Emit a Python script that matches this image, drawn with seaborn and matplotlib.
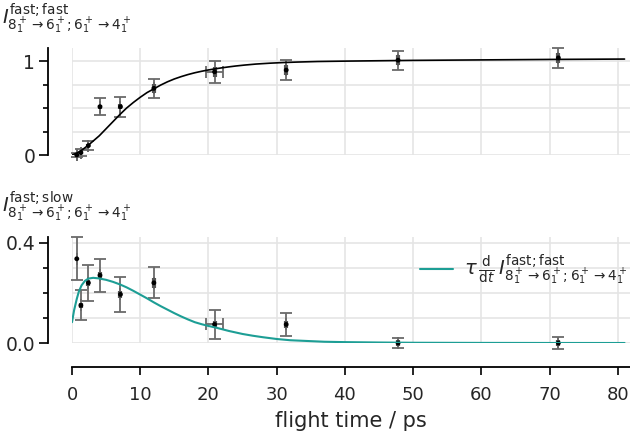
import matplotlib
matplotlib.use('Agg')
import matplotlib.pyplot as plt
from matplotlib.ticker import FixedLocator
import pandas as pd
import seaborn as sns

flight_time = [0.7, 1.3, 2.4, 4.1, 7.1, 12.0, 20.9, 31.4, 47.8, 71.3]
flight_time_err = [0, 0, 0, 0, 0, 0, 1.2, 0, 0, 0]
fast_fast = [0.0, 0.025, 0.10, 0.515, 0.515, 0.71, 0.886, 0.905, 1.01, 1.035]
fast_fast_err = [0.02, 0.035, 0.05, 0.093, 0.107, 0.098, 0.12, 0.11, 0.10, 0.103]
fast_fast_err_stat = [0.01, 0.015, 0.02, 0.02, 0.03, 0.05, 0.05, 0.05, 0.05, 0.05]
fast_slow = [0.336, 0.15, 0.24, 0.27, 0.194, 0.24, 0.074, 0.074, 0.0, 0.0]
fast_slow_err = [0.085, 0.06, 0.073, 0.067, 0.07, 0.062, 0.057, 0.047, 0.02, 0.022]
fast_slow_err_stat = [0.005, 0.01, 0.012, 0.012, 0.014, 0.02, 0.015, 0.015, 0.012, 0.012]

# fitted curves (sampled off the figure)
fit_time = [0, 0.7, 1.4, 2.4, 3.2, 4, 5, 6, 7, 8, 9, 10, 11, 12, 13, 14, 15,
            16, 17, 18, 19, 20, 21, 22, 23, 24, 25.3, 27, 29, 31, 33, 36, 40,
            50, 60, 70, 81]
fit_fast_fast = [0.0, 0.02, 0.05, 0.105, 0.155, 0.205, 0.28, 0.355, 0.43,
                 0.5, 0.56, 0.615, 0.665, 0.705, 0.745, 0.78, 0.81, 0.835,
                 0.857, 0.876, 0.892, 0.906, 0.918, 0.929, 0.939, 0.948,
                 0.958, 0.969, 0.978, 0.985, 0.99, 0.996, 1.0, 1.008, 1.013,
                 1.018, 1.022]
deriv_time = [0, 0.3, 0.7, 1.0, 1.4, 1.9, 2.4, 3.1, 3.85, 5, 6, 7, 8, 9, 10,
              11, 12, 13, 14, 15, 16, 17, 18, 19, 20, 21, 22, 23, 24, 25,
              26.5, 28, 30, 32, 34.5, 37, 40, 45, 50, 60, 70, 81]
deriv_fast_fast = [0.083, 0.13, 0.176, 0.205, 0.23, 0.248, 0.257, 0.26, 0.258,
                   0.252, 0.244, 0.234, 0.222, 0.208, 0.193, 0.178, 0.162,
                   0.147, 0.133, 0.119, 0.106, 0.094, 0.083, 0.075, 0.068,
                   0.062, 0.055, 0.048, 0.042, 0.036, 0.029, 0.023, 0.016,
                   0.011, 0.008, 0.005, 0.0035, 0.002, 0.001, 0.0004, 0.0001,
                   0.0]

sub = r'8_1^+\rightarrow 6_1^+;6_1^+\rightarrow 4_1^+'
label_ff = r'$I^{\mathrm{fast;fast}}_{' + sub + r'}$'
label_fs = r'$I^{\mathrm{fast;slow}}_{' + sub + r'}$'
label_deriv = r'$\tau\,\frac{\mathrm{d}}{\mathrm{d}t}\,I^{\mathrm{fast;fast}}_{' + sub + r'}$'

sns.set_theme(style='whitegrid')
plt.rcParams['font.family'] = ['DejaVu Sans']
plt.rcParams['mathtext.fontset'] = 'dejavusans'

teal = '#1d9e95'
grid_col = '#e5e5e5'
fs = 13.5

fig = plt.figure(figsize=(6.3, 4.37), dpi=100)
ax1 = fig.add_axes([0.1143, 0.6453, 0.8857, 0.2449])
ax2 = fig.add_axes([0.1143, 0.2151, 0.8857, 0.2432])

pts = pd.DataFrame({'t': flight_time, 'ff': fast_fast, 'fs': fast_slow})

for ax, y, err, err_stat in [(ax1, fast_fast, fast_fast_err, fast_fast_err_stat),
                             (ax2, fast_slow, fast_slow_err, fast_slow_err_stat)]:
    ax.errorbar(flight_time, y, yerr=err, xerr=flight_time_err, fmt='none',
                ecolor='#6a6a6a', elinewidth=1.3, capsize=4.5, capthick=1.3,
                clip_on=False, zorder=3)
    ax.errorbar(flight_time, y, yerr=err_stat, fmt='none', ecolor='#555555',
                elinewidth=3, capsize=0, clip_on=False, zorder=3)

sns.scatterplot(data=pts, x='t', y='ff', ax=ax1, color='black', s=12,
                edgecolor='none', zorder=4, clip_on=False)
sns.scatterplot(data=pts, x='t', y='fs', ax=ax2, color='black', s=12,
                edgecolor='none', zorder=4, clip_on=False)

sns.lineplot(x=fit_time, y=fit_fast_fast, ax=ax1, color='black', lw=1.2,
             zorder=5)
sns.lineplot(x=deriv_time, y=deriv_fast_fast, ax=ax2, color=teal, lw=1.5,
             zorder=5, label=label_deriv)

for ax in (ax1, ax2):
    ax.set_xlim(0, 81.8)
    ax.set_xlabel('')
    ax.set_ylabel('')
    ax.xaxis.set_major_locator(FixedLocator(range(0, 90, 10)))
    ax.grid(True, which='both', color=grid_col, lw=1.2)
    ax.grid(False, axis='x', which='minor')
    for side in ('top', 'right', 'bottom'):
        ax.spines[side].set_visible(False)
    ax.spines['left'].set_position(('outward', 17))
    ax.spines['left'].set_color('black')
    ax.spines['left'].set_linewidth(1.3)
    ax.tick_params(axis='y', which='major', left=True, length=6.5, width=1.2,
                   color='black', labelsize=fs, pad=3)
    ax.tick_params(axis='y', which='minor', left=True, length=3.5, width=1.2,
                   color='black')
    ax.set_axisbelow(True)
    ax.set_facecolor('white')

ax1.set_ylim(0, 1.14)
ax1.yaxis.set_major_locator(FixedLocator([0, 1]))
ax1.yaxis.set_minor_locator(FixedLocator([0.25, 0.5, 0.75]))
ax1.set_yticklabels(['0', '1'])
ax1.tick_params(axis='x', bottom=False, labelbottom=False)

ax2.set_ylim(0, 0.424)
ax2.yaxis.set_major_locator(FixedLocator([0, 0.4]))
ax2.yaxis.set_minor_locator(FixedLocator([0.1, 0.2, 0.3]))
ax2.set_yticklabels(['0.0', '0.4'])
ax2.spines['bottom'].set_visible(True)
ax2.spines['bottom'].set_position(('outward', 17))
ax2.spines['bottom'].set_color('black')
ax2.spines['bottom'].set_linewidth(1.3)
ax2.tick_params(axis='x', bottom=True, length=6, width=1.2, color='black',
                labelsize=13, pad=8)
ax2.set_xlabel('flight time / ps', fontsize=15, labelpad=5)

leg = ax2.legend(loc='upper right', frameon=False, fontsize=14,
                 handlelength=1.7, handletextpad=0.6,
                 bbox_to_anchor=(1.01, 0.92), borderaxespad=0)

fig.text(0.003, 0.997, label_ff, ha='left', va='top', fontsize=14)
fig.text(0.003, 0.567, label_fs, ha='left', va='top', fontsize=14)

fig.savefig('out.png', dpi=100)
